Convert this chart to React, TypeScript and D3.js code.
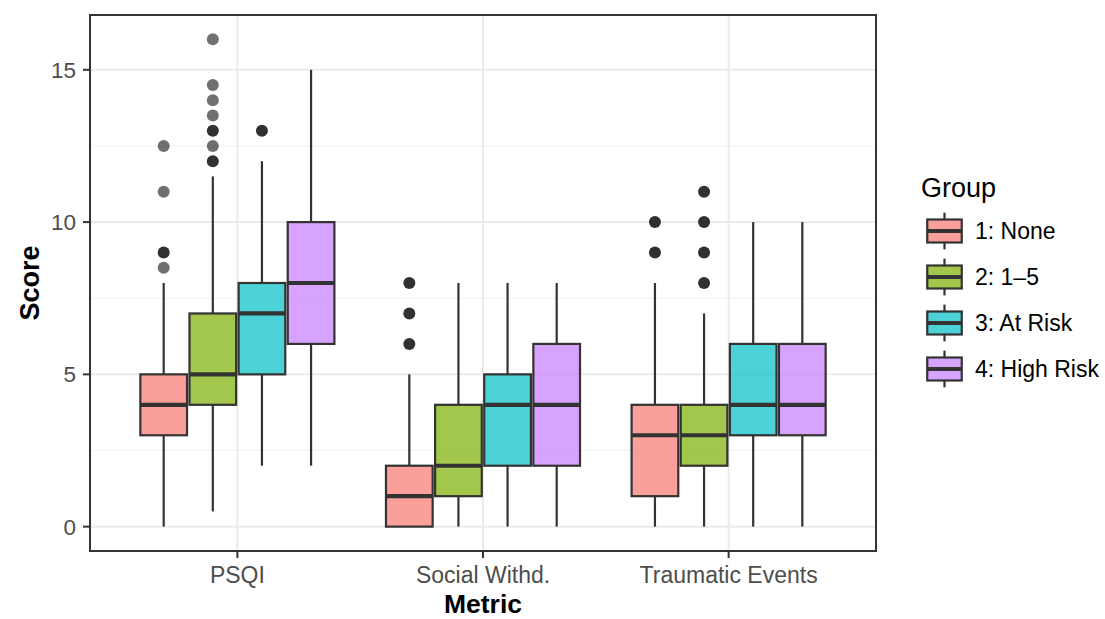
import React from "react";
import * as d3 from "d3";

const metrics = ["PSQI", "Social Withd.", "Traumatic Events"];
const groups = ["1: None", "2: 1\u20135", "3: At Risk", "4: High Risk"];
const colors = ["#F8766D", "#7CAE00", "#00BFC4", "#C77CFF"];

// rows = metric, cols = group
const lowerWhisker = [[0, 0.5, 2, 2], [0, 0, 0, 0], [0, 0, 0, 0]];
const q1 = [[3, 4, 5, 6], [0, 1, 2, 2], [1, 2, 3, 3]];
const medians = [[4, 5, 7, 8], [1, 2, 4, 4], [3, 3, 4, 4]];
const q3 = [[5, 7, 8, 10], [2, 4, 5, 6], [4, 4, 6, 6]];
const upperWhisker = [[8, 11.5, 12, 15], [5, 8, 8, 8], [8, 7, 10, 10]];

// outliers as [value, number of overlapping points]
const outliers: [number, number][][][] = [
  [
    [[8.5, 1], [9, 2], [11, 1], [12.5, 1]],
    [[12, 2], [12.5, 1], [13, 2], [13.5, 1], [14, 1], [14.5, 1], [16, 1]],
    [[13, 2]],
    [],
  ],
  [[[6, 2], [7, 2], [8, 2]], [], [], []],
  [[[9, 2], [10, 2]], [[8, 2], [9, 2], [10, 2], [11, 2]], [], []],
];

const yTicks = [0, 5, 10, 15];
const yMinor = [2.5, 7.5, 12.5];

const W = 1105;
const H = 619;
const panel = { left: 90, right: 876, top: 15, bottom: 551 };
const font = "'Liberation Sans', Arial, Helvetica, sans-serif";
const ink = "#333";

export default function App() {
  const x = d3
    .scalePoint<string>()
    .domain(metrics)
    .range([panel.left, panel.right])
    .padding(0.6);
  const groupWidth = x.step() * 0.8;
  const xInner = d3
    .scaleBand<string>()
    .domain(groups)
    .range([-groupWidth / 2, groupWidth / 2])
    .paddingInner(0.05)
    .paddingOuter(0.025);
  const y = d3.scaleLinear().domain([-0.8, 16.8]).range([panel.bottom, panel.top]);
  const bw = xInner.bandwidth();
  const ptAlpha = 0.56;

  const keySize = 46;
  const keyX = 921.5;
  const keyTop = 208;

  return (
    <svg width={W} height={H} style={{ position: "absolute", left: 0, top: 0 }}>
      <rect width={W} height={H} fill="#fff" />
      {/* grid */}
      {yMinor.map(v => (
        <line key={"mn" + v} x1={panel.left} x2={panel.right} y1={y(v)} y2={y(v)} stroke="#F2F2F2" strokeWidth={1} />
      ))}
      {yTicks.map(v => (
        <line key={"mj" + v} x1={panel.left} x2={panel.right} y1={y(v)} y2={y(v)} stroke="#EBEBEB" strokeWidth={2} />
      ))}
      {metrics.map(m => (
        <line key={"gx" + m} x1={x(m)} x2={x(m)} y1={panel.top} y2={panel.bottom} stroke="#EBEBEB" strokeWidth={2} />
      ))}

      {/* boxes */}
      {metrics.map((m, mi) =>
        groups.map((g, gi) => {
          const left = (x(m) as number) + (xInner(g) as number);
          const cx = left + bw / 2;
          return (
            <g key={m + g}>
              <line x1={cx} x2={cx} y1={y(upperWhisker[mi][gi])} y2={y(q3[mi][gi])} stroke={ink} strokeWidth={2.2} />
              <line x1={cx} x2={cx} y1={y(q1[mi][gi])} y2={y(lowerWhisker[mi][gi])} stroke={ink} strokeWidth={2.2} />
              <rect
                x={left}
                y={y(q3[mi][gi])}
                width={bw}
                height={y(q1[mi][gi]) - y(q3[mi][gi])}
                fill={colors[gi]}
                fillOpacity={0.7}
                stroke={ink}
                strokeWidth={2.2}
              />
              <line x1={left} x2={left + bw} y1={y(medians[mi][gi])} y2={y(medians[mi][gi])} stroke={ink} strokeWidth={4.2} />
              {outliers[mi][gi].map(([v, n], k) => (
                <circle key={k} cx={cx} cy={y(v)} r={6} fill="#000" fillOpacity={1 - Math.pow(1 - ptAlpha, n)} />
              ))}
            </g>
          );
        })
      )}

      {/* panel border */}
      <rect
        x={panel.left}
        y={panel.top}
        width={panel.right - panel.left}
        height={panel.bottom - panel.top}
        fill="none"
        stroke={ink}
        strokeWidth={2}
      />

      {/* y axis */}
      {yTicks.map(v => (
        <g key={"yt" + v}>
          <line x1={panel.left - 7} x2={panel.left} y1={y(v)} y2={y(v)} stroke={ink} strokeWidth={2} />
          <text x={76} y={y(v)} dy="0.36em" textAnchor="end" fontFamily={font} fontSize={22.5} fill="#4D4D4D">
            {v}
          </text>
        </g>
      ))}
      {/* x axis */}
      {metrics.map(m => (
        <g key={"xt" + m}>
          <line x1={x(m)} x2={x(m)} y1={panel.bottom} y2={panel.bottom + 7} stroke={ink} strokeWidth={2} />
          <text x={x(m)} y={583} textAnchor="middle" fontFamily={font} fontSize={23} fill="#4D4D4D">
            {m}
          </text>
        </g>
      ))}

      {/* axis titles */}
      <text x={(panel.left + panel.right) / 2} y={613} textAnchor="middle" fontFamily={font} fontSize={26.5} fontWeight="bold">
        Metric
      </text>
      <text
        transform={`translate(39, ${(panel.top + panel.bottom) / 2}) rotate(-90)`}
        textAnchor="middle"
        fontFamily={font}
        fontSize={27}
        fontWeight="bold"
      >
        Score
      </text>

      {/* legend */}
      <text x={921} y={196.5} fontFamily={font} fontSize={27}>
        Group
      </text>
      {groups.map((g, gi) => {
        const top = keyTop + gi * keySize;
        const cx = keyX + keySize / 2;
        return (
          <g key={"lg" + g}>
            <line x1={cx} x2={cx} y1={top + keySize * 0.1} y2={top + keySize * 0.9} stroke={ink} strokeWidth={2.2} />
            <rect
              x={keyX + keySize * 0.125}
              y={top + keySize * 0.25}
              width={keySize * 0.75}
              height={keySize * 0.5}
              fill="#fff"
            />
            <rect
              x={keyX + keySize * 0.125}
              y={top + keySize * 0.25}
              width={keySize * 0.75}
              height={keySize * 0.5}
              fill={colors[gi]}
              fillOpacity={0.7}
              stroke={ink}
              strokeWidth={2.2}
            />
            <line
              x1={keyX + keySize * 0.125}
              x2={keyX + keySize * 0.875}
              y1={top + keySize / 2}
              y2={top + keySize / 2}
              stroke={ink}
              strokeWidth={4.2}
            />
            <text x={975} y={top + keySize / 2} dy="0.36em" fontFamily={font} fontSize={23}>
              {g}
            </text>
          </g>
        );
      })}
    </svg>
  );
}
